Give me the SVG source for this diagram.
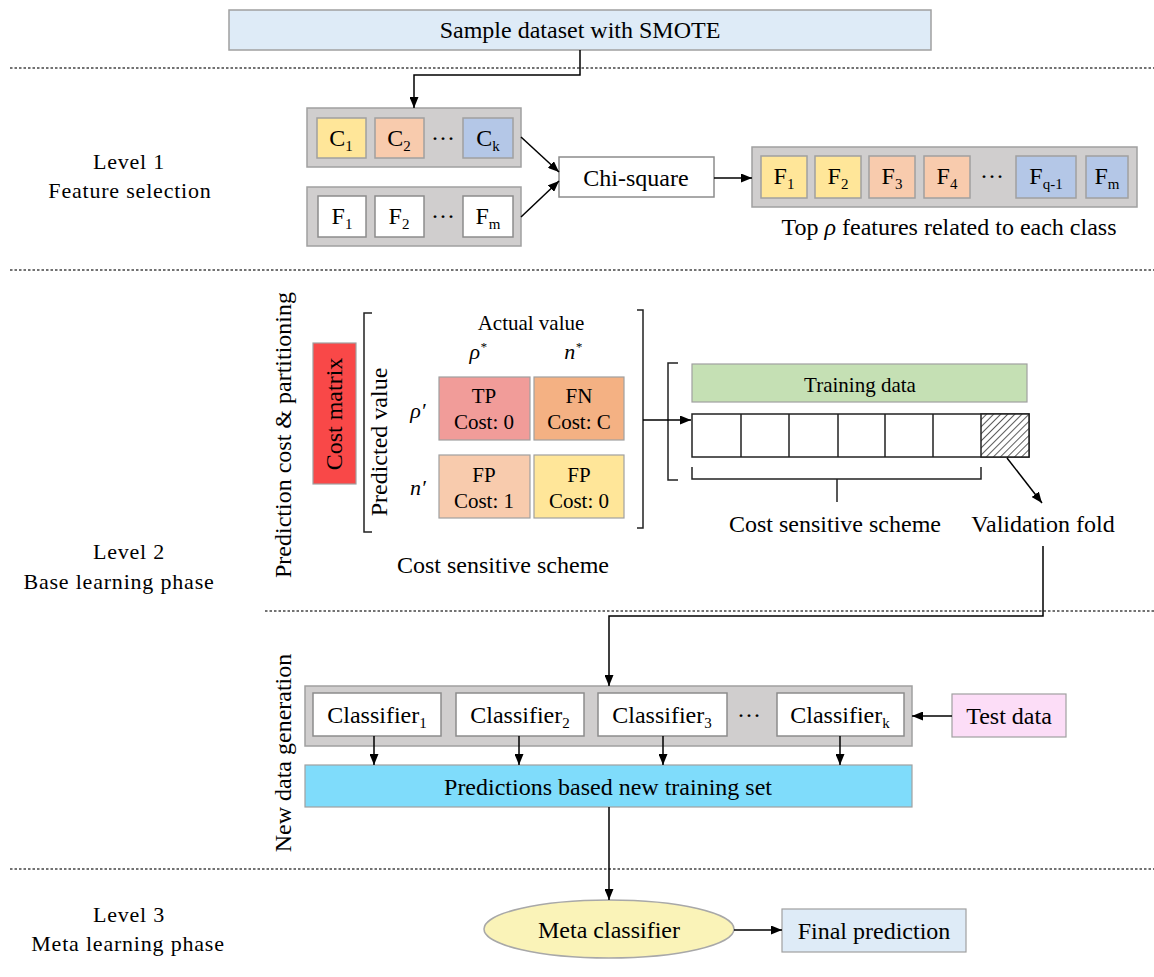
<svg xmlns="http://www.w3.org/2000/svg" width="1154" height="977" viewBox="0 0 1154 977" font-family="'Liberation Serif', 'Times New Roman', Tinos, 'DejaVu Serif', serif">
<style>
text{font-family:"Liberation Serif","Times New Roman",Tinos,"DejaVu Serif",serif}
.t{fill:#000;font-size:24px;text-anchor:middle}
.lv{font-size:22px;letter-spacing:0.8px}
.sm{font-size:21px}
.it{font-style:italic;font-size:22px}
.gray{fill:#D0CECE;stroke:#A0A0A0;stroke-width:1.5}
.wh{fill:#FFFFFF;stroke:#8C8C8C;stroke-width:1.5}
.yel{fill:#FFE699;stroke:#A0A0A0;stroke-width:1.5}
.org{fill:#F8CBAD;stroke:#A0A0A0;stroke-width:1.5}
.blu{fill:#B4C7E7;stroke:#A0A0A0;stroke-width:1.5}
.ln{stroke:#000;stroke-width:1.5;fill:none}
.br{stroke:#222;stroke-width:1.5;fill:none}
.dash{stroke:#444;stroke-width:1.3;stroke-dasharray:2.5 2;fill:none}
</style>
<defs>
<marker id="ah" markerWidth="11" markerHeight="9" refX="11" refY="4.5" orient="auto" markerUnits="userSpaceOnUse">
<path d="M0,0 L11,4.5 L0,9 z" fill="#000"/>
</marker>
<pattern id="hatch" width="5" height="5" patternUnits="userSpaceOnUse" patternTransform="rotate(45)">
<rect width="5" height="5" fill="#fff"/>
<line x1="0" y1="0" x2="0" y2="5" stroke="#333" stroke-width="1.6"/>
</pattern>
</defs>

<g id="separators">
<line class="dash" x1="10" y1="68" x2="1154" y2="68"/>
<line class="dash" x1="10" y1="270" x2="1154" y2="270"/>
<line class="dash" x1="265" y1="611" x2="1154" y2="611"/>
<line class="dash" x1="10" y1="869" x2="1154" y2="869"/>
</g>

<g id="level-labels">
<text class="t lv" x="129" y="169">Level 1</text>
<text class="t lv" x="130" y="198">Feature selection</text>
<text class="t lv" x="129" y="559">Level 2</text>
<text class="t lv" x="119" y="589">Base learning phase</text>
<text class="t lv" x="129" y="922">Level 3</text>
<text class="t lv" x="128" y="951">Meta learning phase</text>
<text class="t" transform="translate(291,435) rotate(-90)">Prediction cost &amp; partitioning</text>
<text class="t" transform="translate(291,753) rotate(-90)" font-size="25">New data generation</text>
</g>

<g id="sample-dataset">
<rect x="229" y="10" width="702" height="40" fill="#DEEBF7" stroke="#A0A0A0" stroke-width="1.5"/>
<text class="t" x="580" y="38">Sample dataset with SMOTE</text>
</g>

<g id="classes">
<rect class="gray" x="307" y="108" width="214" height="59"/>
<rect class="yel" x="317" y="118" width="49" height="40"/>
<text class="t" x="341" y="146">C<tspan font-size="15" dy="5">1</tspan></text>
<rect class="org" x="375" y="118" width="49" height="40"/>
<text class="t" x="399" y="146">C<tspan font-size="15" dy="5">2</tspan></text>
<text class="t" x="443" y="146">···</text>
<rect class="blu" x="463" y="118" width="50" height="40"/>
<text class="t" x="488" y="146">C<tspan font-size="15" dy="5">k</tspan></text>
</g>

<g id="features">
<rect class="gray" x="307" y="187" width="214" height="59"/>
<rect class="wh" x="318" y="196" width="48" height="41"/>
<text class="t" x="342" y="224">F<tspan font-size="15" dy="5">1</tspan></text>
<rect class="wh" x="375" y="196" width="49" height="41"/>
<text class="t" x="399" y="224">F<tspan font-size="15" dy="5">2</tspan></text>
<text class="t" x="443" y="224">···</text>
<rect class="wh" x="463" y="196" width="50" height="41"/>
<text class="t" x="488" y="224">F<tspan font-size="15" dy="5">m</tspan></text>
</g>

<g id="chi-square">
<rect class="wh" x="559" y="157" width="155" height="40"/>
<text class="t" x="636" y="186">Chi-square</text>
</g>

<g id="top-features">
<rect class="gray" x="752" y="147" width="385" height="60"/>
<rect class="yel" x="761" y="156" width="46" height="42"/>
<text class="t" x="784" y="184">F<tspan font-size="15" dy="5">1</tspan></text>
<rect class="yel" x="815" y="156" width="46" height="42"/>
<text class="t" x="838" y="184">F<tspan font-size="15" dy="5">2</tspan></text>
<rect class="org" x="869" y="156" width="46" height="42"/>
<text class="t" x="892" y="184">F<tspan font-size="15" dy="5">3</tspan></text>
<rect class="org" x="924" y="156" width="46" height="42"/>
<text class="t" x="947" y="184">F<tspan font-size="15" dy="5">4</tspan></text>
<text class="t" x="992" y="184">···</text>
<rect class="blu" x="1016" y="156" width="60" height="42"/>
<text class="t" x="1046" y="184">F<tspan font-size="15" dy="5">q-1</tspan></text>
<rect class="blu" x="1086" y="156" width="42" height="42"/>
<text class="t" x="1107" y="184">F<tspan font-size="15" dy="5">m</tspan></text>
<text class="t" x="949" y="235">Top <tspan font-style="italic">ρ</tspan> features related to each class</text>
</g>

<g id="cost-matrix">
<rect x="313" y="343" width="43" height="141" fill="#F94848" stroke="#A0A0A0" stroke-width="1.2"/>
<text class="t" transform="translate(342,414) rotate(-90)">Cost matrix</text>
<text class="t" font-size="20" transform="translate(387,442) rotate(-90)">Predicted value</text>
<text class="t sm" x="531" y="330">Actual value</text>
<text class="t it" x="478" y="359">ρ<tspan font-size="13" dy="-8">*</tspan></text>
<text class="t it" x="573" y="359">n<tspan font-size="13" dy="-8">*</tspan></text>
<text class="t it" x="418" y="418">ρ′</text>
<text class="t it" x="418" y="495">n′</text>
<rect x="439" y="377" width="91" height="63" fill="#F19C99" stroke="#A0A0A0" stroke-width="1.2"/>
<text class="t sm" x="484" y="403">TP</text>
<text class="t sm" x="484" y="429">Cost: 0</text>
<rect x="534" y="377" width="90" height="63" fill="#F4B183" stroke="#A0A0A0" stroke-width="1.2"/>
<text class="t sm" x="579" y="403">FN</text>
<text class="t sm" x="579" y="429">Cost: C</text>
<rect x="439" y="455" width="91" height="63" fill="#F8CBAD" stroke="#A0A0A0" stroke-width="1.2"/>
<text class="t sm" x="484" y="482">FP</text>
<text class="t sm" x="484" y="508">Cost: 1</text>
<rect x="534" y="455" width="90" height="63" fill="#FFE699" stroke="#A0A0A0" stroke-width="1.2"/>
<text class="t sm" x="579" y="482">FP</text>
<text class="t sm" x="579" y="508">Cost: 0</text>
<path class="br" d="M372,313 H364 V532 H372"/>
<path class="br" d="M637,310 H643 V528 H637"/>
<text class="t" x="503" y="573">Cost sensitive scheme</text>
</g>

<g id="training-data">
<rect x="692" y="364" width="335" height="38" fill="#C5E0B4" stroke="#A0A0A0" stroke-width="1.2"/>
<text class="t sm" x="860" y="392">Training data</text>
<rect x="692" y="414" width="337" height="43" fill="#fff" stroke="#222" stroke-width="1.5"/>
<rect x="981" y="414" width="48" height="43" fill="url(#hatch)" stroke="#222" stroke-width="1.5"/>
<path class="br" d="M741,414 V457 M789,414 V457 M838,414 V457 M885,414 V457 M933,414 V457"/>
<path class="br" d="M678,363 H668 V480 H678"/>
<path class="br" d="M692,467 V479 H981 V467 M837,479 V502"/>
<text class="t" x="835" y="532">Cost sensitive scheme</text>
<text class="t" x="1043" y="532">Validation fold</text>
</g>

<g id="classifiers">
<rect class="gray" x="305" y="686" width="607" height="60"/>
<rect class="wh" x="313" y="693" width="128" height="43"/>
<text class="t" x="377" y="723">Classifier<tspan font-size="15" dy="5">1</tspan></text>
<rect class="wh" x="456" y="693" width="128" height="43"/>
<text class="t" x="520" y="723">Classifier<tspan font-size="15" dy="5">2</tspan></text>
<rect class="wh" x="598" y="693" width="129" height="43"/>
<text class="t" x="662" y="723">Classifier<tspan font-size="15" dy="5">3</tspan></text>
<text class="t" x="749" y="723">···</text>
<rect class="wh" x="777" y="693" width="127" height="43"/>
<text class="t" x="840" y="723">Classifier<tspan font-size="15" dy="5">k</tspan></text>
</g>

<g id="test-data">
<rect x="952" y="694" width="114" height="43" fill="#FCDDF7" stroke="#A0A0A0" stroke-width="1.2"/>
<text class="t" x="1009" y="724">Test data</text>
</g>

<g id="predictions">
<rect x="305" y="765" width="607" height="42" fill="#7FDCFB" stroke="#A0A0A0" stroke-width="1.2"/>
<text class="t" x="608" y="795">Predictions based new training set</text>
</g>

<g id="meta-classifier">
<ellipse cx="609" cy="929" rx="125" ry="29" fill="#FAF3B8" stroke="#A8A8A8" stroke-width="1.5"/>
<text class="t" x="609" y="938" font-size="25">Meta classifier</text>
</g>

<g id="final-prediction">
<rect x="782" y="909" width="184" height="43" fill="#DEEBF7" stroke="#A0A0A0" stroke-width="1.2"/>
<text class="t" x="874" y="939">Final prediction</text>
</g>

<g id="connectors">
<path class="ln" d="M580,50 V75 H414 V108" marker-end="url(#ah)"/>
<path class="ln" d="M521,137 L559,172" marker-end="url(#ah)"/>
<path class="ln" d="M521,217 L559,181" marker-end="url(#ah)"/>
<path class="ln" d="M714,178 H752" marker-end="url(#ah)"/>
<path class="ln" d="M643,420 H691" marker-end="url(#ah)"/>
<path class="ln" d="M1007,458 L1042,503" marker-end="url(#ah)"/>
<path class="ln" d="M1043,546 V616 H609 V686" marker-end="url(#ah)"/>
<path class="ln" d="M374,736 V765" marker-end="url(#ah)"/>
<path class="ln" d="M519,736 V765" marker-end="url(#ah)"/>
<path class="ln" d="M663,736 V765" marker-end="url(#ah)"/>
<path class="ln" d="M840,736 V765" marker-end="url(#ah)"/>
<path class="ln" d="M952,716 H912" marker-end="url(#ah)"/>
<path class="ln" d="M609,807 V900" marker-end="url(#ah)"/>
<path class="ln" d="M734,930 H782" marker-end="url(#ah)"/>
</g>
</svg>
